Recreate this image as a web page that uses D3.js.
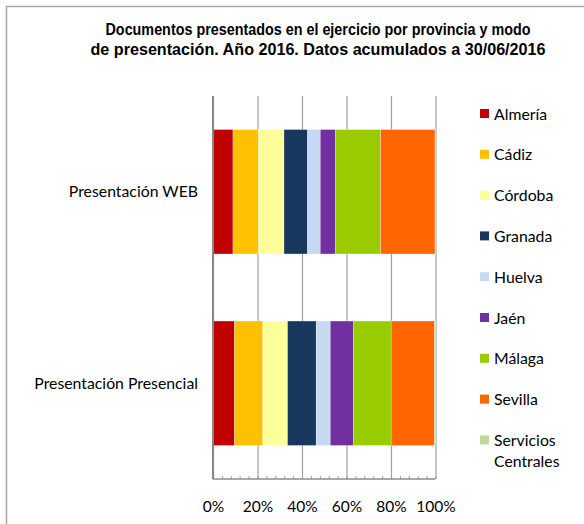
<!DOCTYPE html>
<html><head><meta charset="utf-8">
<script src="https://cdn.jsdelivr.net/npm/d3@7"></script>
<style>body{margin:0;background:#fff} svg{display:block}</style>
</head><body>
<script>
const categories = ["Presentación WEB", "Presentación Presencial"];
const provinces = ["Almería","Cádiz","Córdoba","Granada","Huelva","Jaén","Málaga","Sevilla","Servicios Centrales"];
const webValues = [9.0, 11.5, 11.4, 10.6, 5.7, 6.9, 20.2, 24.5, 0.2];
const presencialValues = [9.7, 12.7, 11.1, 12.9, 6.3, 10.5, 16.9, 19.5, 0.4];
const colors = ["#C00000","#FFC000","#FFFF99","#17375E","#C6D9F1","#7030A0","#99CC00","#FF6600","#C3D69B"];
const xTicks = [0, 20, 40, 60, 80, 100];
const minorTicks = d3.range(0, 101, 4);
const titleLines = ["Documentos presentados en el ejercicio por provincia y modo",
                    "de presentación. Año 2016. Datos acumulados a 30/06/2016"];
const titleWidths = [425, 455];

const W = 584, H = 524;
const svg = d3.select("body").append("svg").attr("width", W).attr("height", H);

// outer frame
svg.append("rect").attr("x", 6.5).attr("y", 6.5).attr("width", W).attr("height", H)
  .attr("fill", "none").attr("stroke", "#a6a6a6").attr("stroke-width", 1.5);

// title (condensed look via textLength)
svg.append("g").selectAll("text").data(titleLines).join("text")
  .attr("x", 318).attr("y", (d, i) => 35 + i * 20)
  .attr("text-anchor", "middle")
  .attr("textLength", (d, i) => titleWidths[i]).attr("lengthAdjust", "spacingAndGlyphs")
  .style("font-family", "'Liberation Sans', Arial, sans-serif")
  .style("font-weight", "bold").style("font-size", "16px").attr("fill", "#000")
  .text(d => d);

// data table
const rows = categories.map((c, i) => {
  const vals = i === 0 ? webValues : presencialValues;
  const total = d3.sum(vals);
  const o = {cat: c};
  provinces.forEach((p, j) => o[p] = vals[j] / total * 100);
  return o;
});
const series = d3.stack().keys(provinces)(rows);

const x = d3.scaleLinear().domain([0, 100]).range([213, 435.5]);
const y = d3.scaleBand().domain(categories).range([96, 479]).paddingInner(0.35).paddingOuter(0.175);
const font = "Lato, 'Open Sans', sans-serif";

// gridlines + labels
const gx = svg.append("g").attr("transform", "translate(0,479)")
  .call(d3.axisBottom(x).tickValues(xTicks).tickFormat(d => d + "%").tickSize(-383).tickPadding(22));
gx.select(".domain").remove();
gx.selectAll(".tick line").attr("stroke", "#a0a0a0").attr("stroke-width", 1.2);
gx.selectAll(".tick text").style("font-family", font).style("font-size", "15.5px").attr("fill", "#000");

// minor ticks
const gm = svg.append("g").attr("transform", "translate(0,479)")
  .call(d3.axisBottom(x).tickValues(minorTicks).tickFormat("").tickSize(-3));
gm.select(".domain").remove();
gm.selectAll(".tick line").attr("stroke", "#a0a0a0");

// bars
svg.append("g").selectAll("g").data(series).join("g")
  .attr("fill", (d, i) => colors[i])
  .selectAll("rect").data(d => d).join("rect")
  .attr("x", d => x(d[0])).attr("width", d => x(d[1]) - x(d[0]))
  .attr("y", d => y(d.data.cat)).attr("height", y.bandwidth())
  .attr("stroke", "#ffffff").attr("stroke-opacity", 0.5).attr("stroke-width", 0.6);

// axes lines
svg.append("line").attr("x1", x(0)).attr("x2", x(100)).attr("y1", 479).attr("y2", 479)
  .attr("stroke", "#8c8c8c").attr("stroke-width", 1.5);
svg.append("line").attr("x1", x(0)).attr("x2", x(0)).attr("y1", 96).attr("y2", 479)
  .attr("stroke", "#868686").attr("stroke-width", 2);

// category labels
svg.append("g").selectAll("text").data(categories).join("text")
  .attr("x", 198).attr("y", d => y(d) + y.bandwidth() / 2).attr("dy", "0.35em")
  .attr("text-anchor", "end").style("font-family", font).style("font-size", "15.8px")
  .attr("fill", "#000").text(d => d);

// legend
const lg = svg.append("g").selectAll("g").data(provinces).join("g")
  .attr("transform", (d, i) => `translate(480,${114 + i * 40.8})`);
lg.append("rect").attr("x", 0).attr("y", -5).attr("width", 9).attr("height", 9)
  .attr("fill", (d, i) => colors[i]);
lg.append("text").attr("x", 14).attr("y", 0)
  .style("font-family", font).style("font-size", "15.8px").attr("fill", "#000")
  .selectAll("tspan").data(d => d.split(" ")).join("tspan")
  .attr("x", 14).attr("dy", (d, i) => i ? "1.33em" : "0.35em").text(d => d);
</script>
</body></html>
